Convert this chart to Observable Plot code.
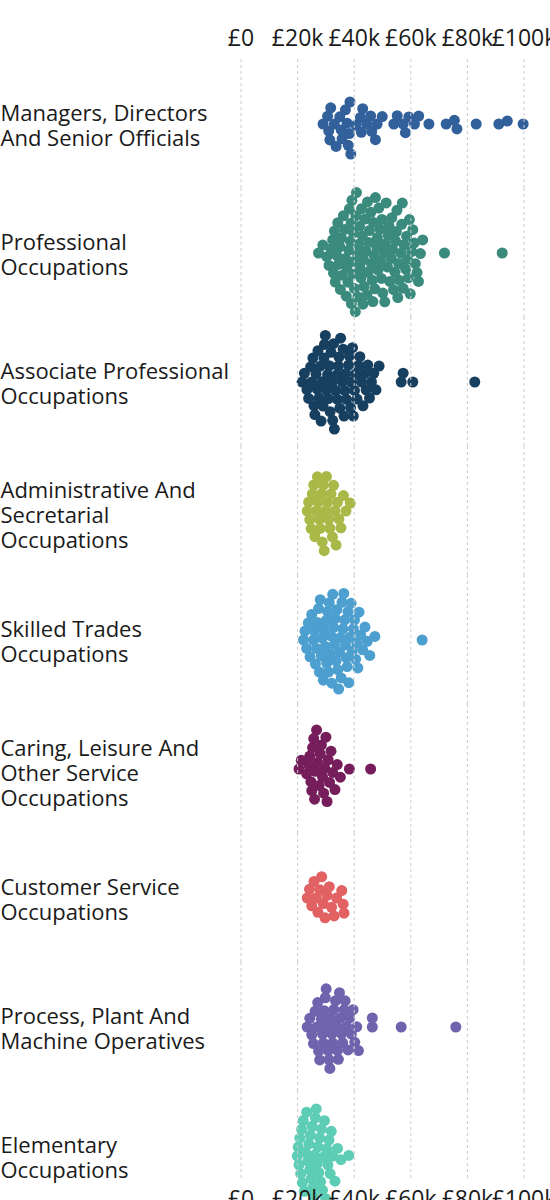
<!DOCTYPE html>
<html>
<head>
<meta charset="utf-8">
<script src="https://cdn.jsdelivr.net/npm/d3@7"></script>
<script src="https://cdn.jsdelivr.net/npm/@observablehq/plot@0.6"></script>
<style>
  html, body { margin: 0; padding: 0; background: #ffffff; }
  #chart svg { display: block; }
</style>
</head>
<body>
<div id="chart"></div>
<script>
// Occupation groups (facets), display labels and colours
const groups = [
  "Managers, Directors And Senior Officials",
  "Professional Occupations",
  "Associate Professional Occupations",
  "Administrative And Secretarial Occupations",
  "Skilled Trades Occupations",
  "Caring, Leisure And Other Service Occupations",
  "Customer Service Occupations",
  "Process, Plant And Machine Operatives",
  "Elementary Occupations"
];
const groupLabels = [
  "Managers, Directors\nAnd Senior Officials",
  "Professional\nOccupations",
  "Associate Professional\nOccupations",
  "Administrative And\nSecretarial\nOccupations",
  "Skilled Trades\nOccupations",
  "Caring, Leisure And\nOther Service\nOccupations",
  "Customer Service\nOccupations",
  "Process, Plant And\nMachine Operatives",
  "Elementary\nOccupations"
];
const colors = ["#31609b", "#3a8b7d", "#173f5f", "#a9b948", "#4c9fcf", "#751e5b", "#e26163", "#6f63ad", "#5dcdb5"];

// Axis ticks (salary in £ thousands)
const tickValues = [0, 20, 40, 60, 80, 100];
const tickLabels = ["£0", "£20k", "£40k", "£60k", "£80k", "£100k"];

// Salaries (£ thousands) per occupation
const managers = [29.0, 30.6, 31.0, 31.4, 31.7, 33.0, 33.6, 34.9, 35.4, 35.7, 36.9, 37.5, 37.9, 38.3, 38.5, 38.8, 40.6, 42.2, 42.5, 43.0, 44.4, 45.8, 46.2, 47.5, 48.1, 49.9, 54.0, 55.2, 57.3, 58.1, 59.3, 61.3, 62.8, 66.4, 72.5, 75.4, 76.3, 83.1, 91.1, 94.1, 99.7];
const professional = [27.4, 28.9, 30.3, 31.1, 31.8, 32.4, 32.7, 33.0, 33.3, 33.9, 34.2, 34.4, 34.9, 35.1, 35.5, 35.8, 36.2, 36.6, 36.9, 37.2, 37.4, 37.8, 38.1, 38.3, 38.6, 38.9, 39.0, 39.2, 39.5, 39.7, 39.9, 40.1, 40.4, 40.6, 40.8, 41.1, 41.3, 41.6, 41.9, 42.1, 42.4, 42.6, 42.9, 43.1, 43.3, 43.5, 43.8, 44.2, 44.5, 44.7, 44.9, 45.2, 45.4, 45.9, 46.1, 46.4, 46.6, 46.8, 47.0, 47.3, 47.5, 48.0, 48.2, 48.4, 48.7, 49.1, 49.4, 49.6, 49.8, 50.1, 50.6, 50.8, 51.0, 51.3, 51.8, 52.0, 52.3, 52.6, 53.1, 53.3, 53.6, 53.9, 54.4, 54.6, 54.9, 55.1, 55.4, 55.7, 55.9, 56.5, 56.8, 57.0, 57.3, 57.6, 58.2, 58.5, 58.8, 59.1, 59.5, 59.8, 60.3, 60.7, 61.2, 61.6, 62.2, 62.7, 63.4, 64.2, 71.9, 92.3];
const associate = [21.6, 22.4, 23.3, 23.9, 24.6, 25.0, 25.4, 25.8, 26.1, 26.5, 26.9, 27.2, 27.6, 28.0, 28.3, 28.7, 29.0, 29.3, 29.5, 29.8, 30.1, 30.6, 30.9, 31.2, 31.5, 31.8, 32.1, 32.4, 32.7, 33.0, 33.5, 33.8, 34.1, 34.4, 34.6, 34.9, 35.2, 35.8, 36.1, 36.4, 36.7, 37.0, 37.3, 38.0, 38.3, 38.7, 39.0, 39.4, 39.7, 40.1, 40.5, 41.0, 41.5, 42.0, 42.6, 43.1, 43.7, 44.2, 44.8, 45.4, 46.1, 46.9, 47.7, 48.8, 56.6, 57.3, 60.7, 82.6];
const administrative = [23.4, 23.9, 24.3, 24.8, 25.2, 25.7, 26.1, 26.6, 27.0, 27.3, 27.7, 28.0, 28.4, 28.7, 29.1, 29.4, 29.8, 30.2, 30.6, 31.0, 31.4, 31.8, 32.3, 32.7, 33.2, 33.6, 34.1, 34.6, 35.3, 36.2, 37.1, 38.6];
const skilledTrades = [22.1, 22.6, 23.2, 23.8, 24.4, 25.0, 25.6, 26.0, 26.3, 26.7, 27.0, 27.4, 27.7, 28.0, 28.4, 28.7, 29.1, 29.4, 29.8, 30.1, 30.3, 30.6, 30.9, 31.2, 31.5, 31.8, 32.1, 32.4, 32.7, 33.0, 33.3, 33.6, 33.9, 34.2, 34.5, 34.8, 35.1, 35.4, 35.7, 36.0, 36.3, 36.6, 36.9, 37.2, 37.5, 37.8, 38.1, 38.5, 38.9, 39.3, 39.7, 40.1, 40.5, 40.9, 41.3, 41.7, 42.3, 43.0, 43.8, 44.6, 45.5, 47.3, 64.0];
const caring = [20.5, 21.3, 23.2, 24.0, 24.3, 24.7, 25.0, 25.3, 25.7, 26.0, 26.3, 26.7, 27.1, 27.6, 28.0, 28.4, 28.8, 29.2, 29.6, 30.0, 30.4, 30.8, 31.3, 31.8, 32.4, 33.2, 34.0, 35.1, 38.3, 45.8];
const customerService = [23.4, 24.2, 25.0, 25.8, 26.6, 27.2, 27.9, 28.5, 29.1, 29.7, 30.4, 31.2, 32.0, 32.9, 33.8, 35.6, 36.1, 36.4];
const processPlant = [23.4, 24.3, 25.0, 25.6, 26.2, 26.8, 27.1, 27.4, 27.8, 28.4, 28.8, 29.1, 29.4, 29.8, 30.1, 30.4, 30.8, 31.1, 31.4, 31.8, 32.1, 32.4, 32.8, 33.4, 33.8, 34.1, 34.4, 34.8, 35.1, 35.5, 35.9, 36.4, 36.8, 37.3, 37.8, 38.4, 39.0, 39.6, 40.2, 40.9, 41.5, 46.4, 46.4, 56.6, 75.9];
const elementary = [19.9, 20.2, 20.5, 20.8, 21.1, 21.4, 21.7, 22.0, 22.4, 22.8, 23.2, 23.6, 24.0, 24.3, 24.5, 24.8, 25.1, 25.4, 25.7, 26.0, 26.3, 26.6, 26.9, 27.2, 27.5, 27.8, 28.1, 28.4, 28.8, 29.1, 29.5, 29.9, 30.3, 30.7, 31.1, 31.5, 31.9, 32.4, 33.2, 34.1, 35.3, 38.1];

const seriesByGroup = [managers, professional, associate, administrative, skilledTrades, caring, customerService, processPlant, elementary];
const rows = groups.flatMap((g, i) => seriesByGroup[i].map((v) => ({group: g, salary: v})));

const firstGroup = groups[0];
const lastGroup = groups[groups.length - 1];
const gridRows = groups.slice(0, -1).flatMap((g) => tickValues.map((t) => ({group: g, t})));
const lineCount = (i) => groupLabels[i].split("\n").length;

const labelStyle = {fy: (d) => d, text: (d, i) => groupLabels[i], frameAnchor: "left", textAnchor: "start", dx: -240.5, fontSize: 22, lineHeight: 1.14, fill: "#1a1a1a"};

const chart = Plot.plot({
  width: 550,
  height: 1220,
  marginTop: 58,
  marginBottom: 0,
  marginLeft: 240.5,
  marginRight: 26.5,
  style: {fontFamily: "'Open Sans', sans-serif", background: "#ffffff", color: "#1a1a1a"},
  x: {domain: [0, 100], axis: null},
  fy: {domain: groups, padding: 0, axis: null},
  color: {domain: groups, range: colors},
  marks: [
    Plot.dot(rows, Plot.dodgeY({anchor: "middle", padding: -2, x: "salary", fy: "group", r: 5.5, fill: "group"})),
    Plot.ruleX(gridRows, {x: "t", fy: "group", stroke: "#cccccc", strokeDasharray: "3,3"}),
    Plot.ruleX(tickValues, {x: (d) => d, fy: () => lastGroup, stroke: "#cccccc", strokeDasharray: "3,3", insetBottom: 40}),
    Plot.text(tickValues, {x: (d) => d, fy: () => firstGroup, text: (d, i) => tickLabels[i], frameAnchor: "top", lineAnchor: "middle", dy: -20.5, fontSize: 23, fill: "#1a1a1a"}),
    Plot.text(tickValues, {x: (d) => d, fy: () => lastGroup, text: (d, i) => tickLabels[i], frameAnchor: "bottom", lineAnchor: "middle", dy: -21, fontSize: 23, fill: "#1a1a1a"}),
    Plot.text(groups, {...labelStyle, filter: (d, i) => lineCount(i) < 3, dy: 1}),
    Plot.text(groups, {...labelStyle, filter: (d, i) => lineCount(i) >= 3, dy: 4})
  ]
});
document.getElementById("chart").appendChild(chart);
</script>
</body>
</html>
